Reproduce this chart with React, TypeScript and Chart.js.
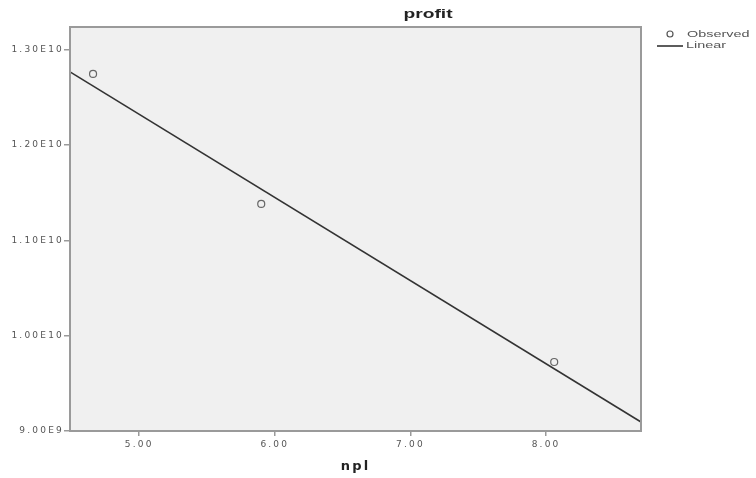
import React, { useEffect, useRef } from "react";
import { Chart, registerables } from "chart.js";

Chart.register(...registerables);

const titleText = "profit";
const xTitle = "npl";
const observedX = [4.66, 5.9, 8.06];
const observedY = [1.2748e10, 1.1383e10, 9.724e9];
const linearX = [4.49, 8.7];
const linearY = [1.2769e10, 9.094e9];
const xTicks = [5, 6, 7, 8];
const xTickLabels = ["5.00", "6.00", "7.00", "8.00"];
const yTicks = [9e9, 1e10, 1.1e10, 1.2e10, 1.3e10];
const yTickLabels = ["9.00E9", "1.00E10", "1.10E10", "1.20E10", "1.30E10"];
const legendLabels = ["Observed", "Linear"];

const FRAME = "#9a9a9a";
const INK = "#333333";
const FONT = "Arial, 'Liberation Sans', sans-serif";
const TICKFONT = "'DejaVu Sans', Verdana, sans-serif";

function stretchText(ctx: any, text: string, x: number, y: number, sx: number, align: string) {
  ctx.save();
  ctx.letterSpacing = "0px";
  ctx.textAlign = align;
  ctx.scale(sx, 1);
  ctx.fillText(text, x / sx, y);
  ctx.restore();
}

const decorPlugin = {
  id: "decor",
  beforeDraw(chart: any) {
    const { ctx, chartArea: a } = chart;
    ctx.save();
    ctx.fillStyle = "#f0f0f0";
    ctx.fillRect(a.left, a.top, a.right - a.left, a.bottom - a.top);
    ctx.restore();
    // widen library-drawn text (tick labels, axis title)
    ctx.letterSpacing = "2.2px";
  },
  afterDraw(chart: any) {
    const { ctx, chartArea: a } = chart;
    ctx.save();
    ctx.letterSpacing = "0px";
    ctx.strokeStyle = FRAME;
    ctx.lineWidth = 2;
    ctx.strokeRect(a.left, a.top, a.right - a.left, a.bottom - a.top);
    // title
    ctx.fillStyle = "#222";
    ctx.font = "bold 12px " + FONT;
    ctx.textBaseline = "middle";
    stretchText(ctx, titleText, 428, 15, 1.6, "center");
    // legend
    ctx.font = "9px " + FONT;
    ctx.fillStyle = "#555";
    ctx.beginPath();
    ctx.strokeStyle = "#555";
    ctx.lineWidth = 1.2;
    ctx.arc(670, 34, 3, 0, Math.PI * 2);
    ctx.stroke();
    stretchText(ctx, legendLabels[0], 687, 35, 1.6, "left");
    ctx.beginPath();
    ctx.strokeStyle = INK;
    ctx.lineWidth = 1.6;
    ctx.moveTo(657, 46);
    ctx.lineTo(683, 46);
    ctx.stroke();
    stretchText(ctx, legendLabels[1], 686, 46, 1.6, "left");
    ctx.restore();
  },
};

export default function App() {
  const ref = useRef<HTMLCanvasElement>(null);
  useEffect(() => {
    if (!ref.current) return;
    const chart = new Chart(ref.current, {
      type: "scatter",
      data: {
        datasets: [
          {
            label: legendLabels[1],
            type: "line",
            data: linearX.map((x, i) => ({ x, y: linearY[i] })),
            borderColor: INK,
            borderWidth: 1.6,
            pointRadius: 0,
            showLine: true,
            fill: false,
          },
          {
            label: legendLabels[0],
            data: observedX.map((x, i) => ({ x, y: observedY[i] })),
            pointRadius: 3.5,
            pointBorderWidth: 1.2,
            pointBorderColor: "#666",
            pointBackgroundColor: "rgba(0,0,0,0)",
          },
        ],
      },
      options: {
        responsive: false,
        animation: false,
        layout: { padding: { left: 0, top: 27, right: 115, bottom: 0 } },
        plugins: { legend: { display: false }, tooltip: { enabled: false }, title: { display: false } },
        scales: {
          x: {
            type: "linear",
            min: 4.49,
            max: 8.7,
            afterBuildTicks: (s: any) => {
              s.ticks = xTicks.map((v) => ({ value: v }));
            },
            afterFit: (s: any) => {
              s.height = 47;
            },
            ticks: {
              callback: (v: any) => {
                const i = xTicks.indexOf(Number(v));
                return i >= 0 ? xTickLabels[i] : "";
              },
              color: "#555",
              font: { size: 9, family: TICKFONT },
              padding: 3,
              maxRotation: 0,
            },
            grid: { drawOnChartArea: false, tickLength: 5, color: FRAME, lineWidth: 1.5 },
            border: { color: FRAME, width: 2 },
            title: {
              display: true,
              text: xTitle,
              color: "#222",
              font: { size: 13, weight: "bold", family: TICKFONT },
              padding: { top: 6 },
            },
          },
          y: {
            type: "linear",
            min: 9e9,
            max: 1.324e10,
            afterBuildTicks: (s: any) => {
              s.ticks = yTicks.map((v) => ({ value: v }));
            },
            afterFit: (s: any) => {
              s.width = 70;
            },
            ticks: {
              callback: (v: any) => {
                const i = yTicks.indexOf(Number(v));
                return i >= 0 ? yTickLabels[i] : "";
              },
              color: "#555",
              font: { size: 9, family: TICKFONT },
              padding: 0,
            },
            grid: { drawOnChartArea: false, tickLength: 6, color: FRAME, lineWidth: 1.5 },
            border: { color: FRAME, width: 2 },
          },
        },
      },
      plugins: [decorPlugin],
    } as any);
    return () => chart.destroy();
  }, []);
  return (
    <div style={{ position: "fixed", left: 0, top: 0, width: 756, height: 478, background: "#fff" }}>
      <canvas ref={ref} width={756} height={478} style={{ display: "block" }} />
    </div>
  );
}
